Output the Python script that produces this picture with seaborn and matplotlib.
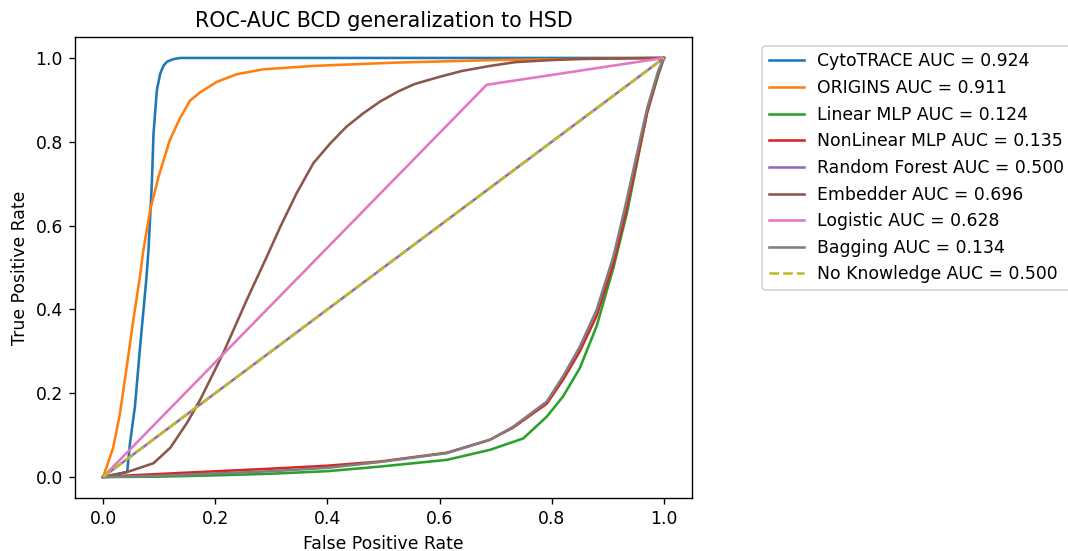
import numpy as np
import pandas as pd
import seaborn as sns
import matplotlib.pyplot as plt

# ROC curves
cyto_fpr = [0, 0.043, 0.048, 0.057, 0.066, 0.077, 0.081, 0.087, 0.090, 0.096, 0.102, 0.108, 0.114, 0.125, 0.137, 1.0]
cyto_tpr = [0, 0.012, 0.08, 0.17, 0.31, 0.47, 0.542, 0.701, 0.82, 0.924, 0.963, 0.982, 0.991, 0.997, 1.0, 1.0]

origins_fpr = [0, 0.008, 0.018, 0.03, 0.043, 0.054, 0.066, 0.072, 0.084, 0.099, 0.119, 0.137, 0.155,
               0.173, 0.203, 0.238, 0.286, 0.375, 0.524, 0.7, 1.0]
origins_tpr = [0, 0.03, 0.07, 0.15, 0.27, 0.375, 0.48, 0.542, 0.637, 0.717, 0.804, 0.856, 0.898,
               0.918, 0.943, 0.961, 0.973, 0.981, 0.989, 0.995, 1.0]

linear_fpr = [0, 0.1, 0.2, 0.3, 0.4, 0.494, 0.613, 0.69, 0.749, 0.791, 0.82, 0.85, 0.88, 0.91, 0.934, 0.952, 0.97, 0.99, 1.0]
linear_tpr = [0, 0.001, 0.004, 0.008, 0.014, 0.025, 0.041, 0.065, 0.092, 0.144, 0.192, 0.26, 0.36, 0.50, 0.63, 0.75, 0.87, 0.96, 1.0]

nonlinear_fpr = [0, 0.05, 0.173, 0.3, 0.4, 0.494, 0.613, 0.69, 0.731, 0.791, 0.82, 0.85, 0.88, 0.91, 0.93, 0.95, 0.97, 0.99, 1.0]
nonlinear_tpr = [0, 0.004, 0.012, 0.02, 0.027, 0.037, 0.058, 0.089, 0.118, 0.175, 0.232, 0.30, 0.385, 0.51, 0.62, 0.745, 0.87, 0.965, 1.0]

forest_fpr = [0, 1.0]
forest_tpr = [0, 1.0]

embed_fpr = [0, 0.043, 0.09, 0.12, 0.15, 0.173, 0.214, 0.256, 0.292, 0.316, 0.345, 0.375, 0.405, 0.434,
             0.464, 0.494, 0.526, 0.556, 0.60, 0.64, 0.69, 0.735, 0.8, 0.855, 1.0]
embed_tpr = [0, 0.012, 0.033, 0.07, 0.13, 0.184, 0.295, 0.422, 0.526, 0.597, 0.677, 0.749, 0.796, 0.836,
             0.868, 0.896, 0.920, 0.938, 0.955, 0.969, 0.981, 0.99, 0.995, 0.998, 1.0]

logit_fpr = [0, 0.684, 1.0]
logit_tpr = [0, 0.936, 1.0]

bag_fpr = [0, 0.1, 0.173, 0.3, 0.4, 0.494, 0.613, 0.69, 0.731, 0.791, 0.82, 0.85, 0.88, 0.91, 0.93, 0.95, 0.97, 0.99, 1.0]
bag_tpr = [0, 0.003, 0.007, 0.014, 0.022, 0.036, 0.057, 0.089, 0.12, 0.18, 0.24, 0.311, 0.399, 0.527, 0.64, 0.76, 0.88, 0.97, 1.0]

chance_fpr = [0, 1.0]
chance_tpr = [0, 1.0]

names = ['CytoTRACE', 'ORIGINS', 'Linear MLP', 'NonLinear MLP', 'Random Forest',
         'Embedder', 'Logistic', 'Bagging', 'No Knowledge']
aucs = [0.924, 0.911, 0.124, 0.135, 0.500, 0.696, 0.628, 0.134, 0.500]

curves = [(cyto_fpr, cyto_tpr), (origins_fpr, origins_tpr), (linear_fpr, linear_tpr),
          (nonlinear_fpr, nonlinear_tpr), (forest_fpr, forest_tpr), (embed_fpr, embed_tpr),
          (logit_fpr, logit_tpr), (bag_fpr, bag_tpr), (chance_fpr, chance_tpr)]

dpi = 124
fig = plt.figure(figsize=(1068 / dpi, 551 / dpi), dpi=dpi)
ax = fig.add_axes([75 / 1068, 1 - 498 / 551, 617 / 1068, 461 / 551])

for i, (name, auc, (fpr, tpr)) in enumerate(zip(names, aucs, curves)):
    df = pd.DataFrame({'fpr': fpr, 'tpr': tpr})
    ls = '--' if name == 'No Knowledge' else '-'
    sns.lineplot(data=df, x='fpr', y='tpr', ax=ax, color=f'C{i}', linestyle=ls,
                 sort=False, estimator=None, label=f'{name} AUC = {auc:.3f}')

ax.set_xlim(-0.05, 1.05)
ax.set_ylim(-0.05, 1.05)
ax.set_xlabel('False Positive Rate')
ax.set_ylabel('True Positive Rate')
ax.set_title('ROC-AUC BCD generalization to HSD')
ax.legend(loc='upper left', bbox_to_anchor=(1.1, 1))

fig.savefig('out.png', dpi=dpi)
